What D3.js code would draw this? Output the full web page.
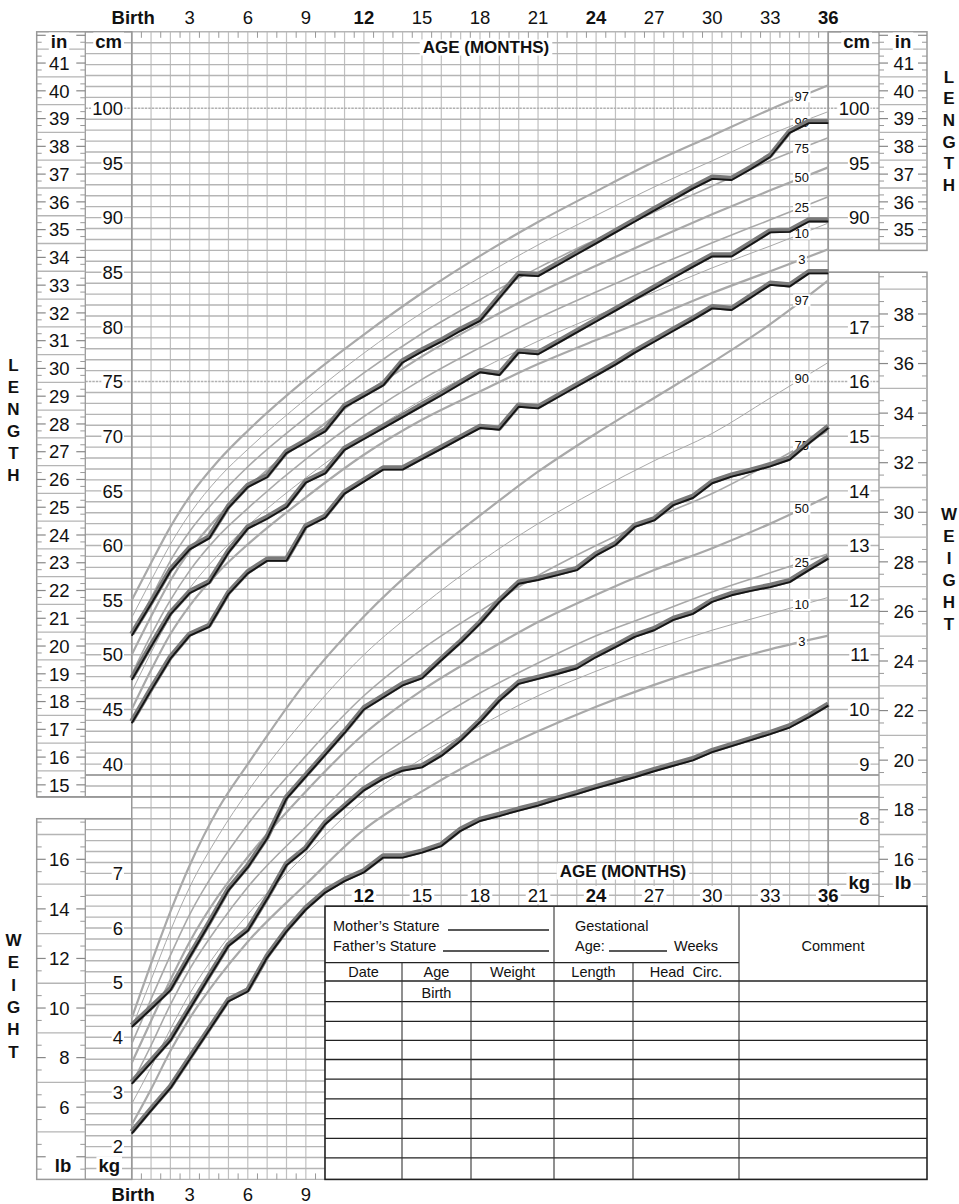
<!DOCTYPE html>
<html>
<head>
<meta charset="utf-8">
<title>Length and weight for age, birth to 36 months</title>
<script src="https://cdn.jsdelivr.net/npm/d3@7"></script>
<style>
  body { margin: 0; background: #fff; }
  text { font-family: "Liberation Sans", Arial, Helvetica, sans-serif; fill: #111; }
</style>
</head>
<body>
<svg id="chart" width="959" height="1204"></svg>
<script>
const AGES = [0, 1, 2, 3, 4.5, 6, 9, 12, 15, 18, 21, 24, 27, 30, 33, 36];

// length-for-age percentiles, cm
const LEN_P97 = [55.0, 58.4, 61.7, 64.5, 67.8, 70.5, 75.2, 79.3, 83.1, 86.5, 89.6, 92.4, 95.1, 97.5, 99.9, 102.1];
const LEN_P90 = [53.4, 56.8, 60.1, 62.9, 66.2, 68.8, 73.4, 77.6, 81.3, 84.5, 87.5, 90.2, 92.8, 95.2, 97.6, 99.7];
const LEN_P75 = [51.8, 55.2, 58.6, 61.3, 64.5, 67.2, 71.7, 75.8, 79.4, 82.5, 85.4, 88.0, 90.5, 92.9, 95.2, 97.3];
const LEN_P50 = [50.0, 53.5, 56.8, 59.5, 62.7, 65.3, 69.8, 73.8, 77.3, 80.3, 83.1, 85.6, 88.0, 90.3, 92.5, 94.6];
const LEN_P25 = [48.2, 51.8, 55.0, 57.7, 60.9, 63.4, 67.9, 71.8, 75.2, 78.1, 80.8, 83.2, 85.5, 87.7, 89.8, 91.9];
const LEN_P10 = [46.6, 50.2, 53.5, 56.1, 59.2, 61.8, 66.2, 70.0, 73.3, 76.1, 78.7, 81.0, 83.2, 85.4, 87.4, 89.5];
const LEN_P3  = [45.0, 48.6, 51.9, 54.5, 57.6, 60.1, 64.4, 68.3, 71.5, 74.1, 76.6, 78.8, 80.9, 83.1, 85.1, 87.1];

// weight-for-age percentiles, kg
const WT_P97 = [4.35, 5.35, 6.30, 7.15, 8.20, 9.00, 10.50, 11.70, 12.70, 13.55, 14.35, 15.05, 15.70, 16.35, 17.05, 17.85];
const WT_P90 = [4.17, 5.05, 5.95, 6.75, 7.70, 8.50, 9.85, 11.00, 11.90, 12.70, 13.40, 14.00, 14.55, 15.05, 15.70, 16.35];
const WT_P75 = [3.88, 4.70, 5.50, 6.25, 7.15, 7.90, 9.15, 10.25, 11.10, 11.80, 12.45, 13.00, 13.50, 13.95, 14.50, 15.10];
const WT_P50 = [3.53, 4.30, 5.05, 5.75, 6.60, 7.30, 8.50, 9.55, 10.35, 11.00, 11.60, 12.10, 12.55, 12.95, 13.40, 13.90];
const WT_P25 = [3.15, 3.85, 4.60, 5.25, 6.05, 6.75, 7.85, 8.90, 9.65, 10.30, 10.85, 11.35, 11.75, 12.15, 12.50, 12.85];
const WT_P10 = [2.78, 3.45, 4.15, 4.80, 5.60, 6.25, 7.35, 8.35, 9.10, 9.70, 10.25, 10.70, 11.10, 11.45, 11.75, 12.05];
const WT_P3  = [2.40, 3.05, 3.75, 4.35, 5.10, 5.75, 6.80, 7.80, 8.50, 9.10, 9.60, 10.05, 10.45, 10.80, 11.10, 11.35];

const PCT_LABELS = ["97", "90", "75", "50", "25", "10", "3"];

// the three plotted children, one value per month
const MONTHS = [0, 1, 2, 3, 4, 5, 6, 7, 8, 9, 10, 11, 12, 13, 14, 15, 16, 17, 18,
                19, 20, 21, 22, 23, 24, 25, 26, 27, 28, 29, 30, 31, 32, 33, 34, 35, 36];
const LEN_A = [51.9, 54.8, 57.8, 59.8, 60.8, 63.6, 65.5, 66.4, 68.6, 69.6, 70.6, 72.8, 73.8, 74.8, 76.9, 77.9, 78.8, 79.8, 80.7,
               82.8, 84.9, 84.8, 85.8, 86.8, 87.8, 88.8, 89.8, 90.8, 91.8, 92.8, 93.7, 93.6, 94.6, 95.7, 97.9, 98.8, 98.8];
const LEN_B = [47.85, 50.9, 53.85, 55.8, 56.7, 59.5, 61.7, 62.6, 63.65, 65.9, 66.75, 68.9, 69.9, 70.9, 71.9, 72.9, 73.9, 74.95, 76.0,
               75.75, 77.8, 77.65, 78.65, 79.65, 80.65, 81.65, 82.65, 83.65, 84.65, 85.65, 86.6, 86.6, 87.7, 88.8, 88.85, 89.8, 89.8];
const LEN_C = [43.9, 46.9, 49.8, 51.9, 52.7, 55.7, 57.6, 58.75, 58.75, 61.8, 62.7, 64.9, 66.0, 67.1, 67.1, 68.05, 69.0, 69.95, 70.9,
               70.75, 72.85, 72.7, 73.7, 74.7, 75.7, 76.7, 77.8, 78.8, 79.8, 80.8, 81.85, 81.7, 82.85, 84.0, 83.85, 85.05, 85.05];
const WT_A = [4.22, 4.55, 4.89, 5.5, 6.1, 6.72, 7.14, 7.67, 8.4, 8.8, 9.2, 9.6, 10.03, 10.25, 10.47, 10.6, 10.93, 11.25, 11.6,
              12.0, 12.33, 12.4, 12.49, 12.58, 12.85, 13.04, 13.37, 13.49, 13.77, 13.9, 14.17, 14.29, 14.38, 14.48, 14.6, 14.9, 15.18];
const WT_B = [3.18, 3.57, 3.97, 4.55, 5.13, 5.7, 5.98, 6.56, 7.18, 7.47, 7.93, 8.24, 8.55, 8.76, 8.91, 8.97, 9.18, 9.46, 9.8,
              10.19, 10.5, 10.59, 10.68, 10.78, 10.99, 11.17, 11.36, 11.48, 11.67, 11.78, 12.0, 12.12, 12.2, 12.27, 12.36, 12.58, 12.79];
const WT_C = [2.27, 2.69, 3.1, 3.63, 4.16, 4.69, 4.87, 5.49, 5.97, 6.37, 6.68, 6.89, 7.05, 7.32, 7.32, 7.41, 7.53, 7.81, 7.99,
              8.08, 8.18, 8.27, 8.38, 8.48, 8.59, 8.69, 8.79, 8.9, 9.0, 9.1, 9.25, 9.36, 9.47, 9.58, 9.7, 9.89, 10.1];

// axis ticks
const AGE_TICKS = [0, 3, 6, 9, 12, 15, 18, 21, 24, 27, 30, 33, 36];
const AGE_TEXT = ["Birth", "3", "6", "9", "12", "15", "18", "21", "24", "27", "30", "33", "36"];
const AGE_BOLD = ["Birth", "12", "24", "36"];
const CM_LEFT = [100, 95, 90, 85, 80, 75, 70, 65, 60, 55, 50, 45, 40];
const CM_RIGHT = [100, 95, 90];
const IN_LEFT = [41, 40, 39, 38, 37, 36, 35, 34, 33, 32, 31, 30, 29, 28, 27, 26, 25, 24, 23, 22, 21, 20, 19, 18, 17, 16, 15];
const IN_RIGHT = [41, 40, 39, 38, 37, 36, 35];
const KG_LEFT = [7, 6, 5, 4, 3, 2];
const KG_RIGHT = [17, 16, 15, 14, 13, 12, 11, 10, 9, 8];
const LB_LEFT = [16, 14, 12, 10, 8, 6];
const LB_RIGHT = [38, 36, 34, 32, 30, 28, 26, 24, 22, 20, 18, 16];

// ---------------------------------------------------------------
const svg = d3.select("#chart");
const X0 = 131.7, X1 = 828.3;          // birth .. 36 months
const Y_TOP = 31.8, Y_BOT = 1179.4;
const x = d3.scaleLinear().domain([0, 36]).range([X0, X1]);
// one vertical grid: 1 cm == 0.2 kg
const yCm = d3.scaleLinear().domain([107, 2]).range([Y_TOP, Y_BOT]);
const yKg = d3.scaleLinear().domain([22.4, 1.4]).range([Y_TOP, Y_BOT]);
const yIn = d3.scaleLinear().domain([107 / 2.54, 2 / 2.54]).range([Y_TOP, Y_BOT]);
const yLb = d3.scaleLinear().domain([22.4 * 2.20462, 1.4 * 2.20462]).range([Y_TOP, Y_BOT]);

const L_OUT = 36.7, L_MID = 85.3;      // left panel columns
const R_MID = 879, R_OUT = 927;        // right panel columns
const T_LEFT = 325, T_TOP = yCm(27);   // comment table

const GRID = "#b5b5b5", FRAME = "#999";

function line(g, x1, y1, x2, y2, color, w) {
  return g.append("line").attr("x1", x1).attr("y1", y1).attr("x2", x2).attr("y2", y2)
    .attr("stroke", color).attr("stroke-width", w);
}

function label(g, s, px, py, o = {}) {
  const t = g.append("text").attr("x", px).attr("y", py).text(s)
    .attr("font-size", o.size || 18.5)
    .attr("font-weight", o.bold ? "bold" : null)
    .attr("text-anchor", o.anchor || "middle");
  if (o.bg !== undefined) {
    const b = t.node().getBBox();
    g.insert("rect", () => t.node())
      .attr("x", b.x - o.bg).attr("y", b.y + 1.5)
      .attr("width", b.width + 2 * o.bg).attr("height", b.height - 3)
      .attr("fill", "#fff");
  }
  return t;
}

const gGrid = svg.append("g");
const gPanel = svg.append("g");
const gCurve = svg.append("g").attr("fill", "none");
const gText = svg.append("g");
const gKid = svg.append("g").attr("fill", "none");

// ---- grid ----
d3.range(0, 37).forEach(m => {
  const bottom = x(m) <= T_LEFT + 0.5 ? Y_BOT : T_TOP;
  line(gGrid, x(m), Y_TOP, x(m), bottom, "#c0c0c0", 1.2);
});
d3.range(2, 108).forEach(u => {
  const inLeft = u !== 36;
  const inRight = u >= 87 || (u >= 27 && u <= 85);
  const x1 = inLeft ? L_MID : X0;
  const x2 = u < 27 ? T_LEFT : (inRight ? R_MID : X1);
  const l = line(gGrid, x1, yCm(u), x2, yCm(u), GRID, 1.4);
  if (u === 100 || u === 75) l.attr("stroke-dasharray", "2.5,1").attr("stroke", "#b0b0b0");
});
// heavier rules where the two grids meet
line(gGrid, L_MID, yCm(39), R_MID, yCm(39), FRAME, 1.6);
line(gGrid, L_OUT, yCm(37), R_MID, yCm(37), FRAME, 1.6);
// half-month ticks
d3.range(0, 36).forEach(m => line(gGrid, x(m + 0.5), Y_TOP, x(m + 0.5), Y_TOP + 6, "#999", 1));
d3.range(0, 10).forEach(m => line(gGrid, x(m + 0.5), Y_BOT, x(m + 0.5), Y_BOT - 6, "#999", 1));

// ---- side panels ----
function panel(xa, xb, xc, ya, yb) {
  gPanel.append("rect").attr("x", xa).attr("y", ya).attr("width", xc - xa).attr("height", yb - ya)
    .attr("fill", "none").attr("stroke", FRAME).attr("stroke-width", 1.5);
  line(gPanel, xb, ya, xb, yb, FRAME, 1.3);
}
panel(L_OUT, L_MID, X0, Y_TOP, yCm(37));
panel(L_OUT, L_MID, X0, yCm(35), Y_BOT);
panel(X1, R_MID, R_OUT, Y_TOP, yCm(87));
panel(X1, R_MID, R_OUT, yCm(85), T_TOP);
line(gPanel, X0, Y_TOP, X0, Y_BOT, FRAME, 1.4);
line(gPanel, X1, Y_TOP, X1, T_TOP, FRAME, 1.4);

// imperial column: full rule at the half unit, ticks at whole and quarter units
function imperialColumn(scale, xa, xb, lo, hi, step) {
  const ya = yCm(hi), yb = yCm(lo);
  d3.range(Math.ceil(scale.invert(yb) / (step / 4)) * (step / 4), scale.invert(ya), step / 4).forEach(v => {
    const yy = scale(v);
    if (yy < ya + 2 || yy > yb - 2) return;
    const k = Math.round(v / (step / 4)) % 4;
    if (k === 2) line(gPanel, xa, yy, xb, yy, GRID, 1.3);
    else if (k === 0) { line(gPanel, xa, yy, xa + 9, yy, "#888", 1.2); line(gPanel, xb - 9, yy, xb, yy, "#888", 1.2); }
    else { line(gPanel, xa, yy, xa + 5, yy, "#999", 1); line(gPanel, xb - 5, yy, xb, yy, "#999", 1); }
  });
}
// inches: whole inch labelled, half inch ruled
imperialColumn(yIn, L_OUT, L_MID, 37, 107, 1);
imperialColumn(yIn, R_MID, R_OUT, 87, 107, 1);
// pounds: even labelled, odd ruled (step of two)
imperialColumn(yLb, L_OUT, L_MID, 2, 35, 2);
imperialColumn(yLb, R_MID, R_OUT, 27, 85, 2);

// ---- axis labels ----
AGE_TICKS.forEach((m, i) => {
  const s = AGE_TEXT[i];
  label(gText, s, x(m) + (i === 0 ? 1.5 : 0), 23.5, { bold: AGE_BOLD.includes(s) });
  if (m <= 9) label(gText, s, x(m) + (i === 0 ? 1.5 : 0), 1201, { bold: AGE_BOLD.includes(s) });
  else label(gText, s, x(m), 901.5, { bold: AGE_BOLD.includes(s), bg: 2 });
});
CM_LEFT.forEach(v => label(gText, v, 123, yCm(v) + 6.7, { anchor: "end", bg: 1 }));
CM_RIGHT.forEach(v => label(gText, v, 869.5, yCm(v) + 6.7, { anchor: "end", bg: 1 }));
KG_LEFT.forEach(v => label(gText, v, 123, yKg(v) + 6.7, { anchor: "end", bg: 1 }));
KG_RIGHT.forEach(v => label(gText, v, 869.5, yKg(v) + 6.7, { anchor: "end", bg: 1 }));
IN_LEFT.forEach(v => label(gText, v, 69.5, yIn(v) + 6.7, { anchor: "end", bg: 1 }));
IN_RIGHT.forEach(v => label(gText, v, 914, yIn(v) + 6.7, { anchor: "end", bg: 1 }));
LB_LEFT.forEach(v => label(gText, v, 69.5, yLb(v) + 6.7, { anchor: "end", bg: 1 }));
LB_RIGHT.forEach(v => label(gText, v, 914, yLb(v) + 6.7, { anchor: "end", bg: 1 }));

label(gText, "in", 59, 48, { bold: true, bg: 2 });
label(gText, "cm", 122, 48, { bold: true, anchor: "end", bg: 2 });
label(gText, "cm", 870, 48, { bold: true, anchor: "end", bg: 2 });
label(gText, "in", 903, 48, { bold: true, bg: 2 });
label(gText, "lb", 63, 1172, { bold: true, bg: 2 });
label(gText, "kg", 120, 1172, { bold: true, anchor: "end", bg: 2 });
label(gText, "kg", 870, 889, { bold: true, anchor: "end", bg: 2 });
label(gText, "lb", 903, 889, { bold: true, bg: 2 });

label(gText, "AGE (MONTHS)", 486, 53, { bold: true, size: 17, bg: 3 });
label(gText, "AGE (MONTHS)", 623, 877, { bold: true, size: 17, bg: 3 });

function stack(g, word, cx, cy0, step) {
  word.split("").forEach((c, i) => label(g, c, cx, cy0 + i * step + 6, { bold: true, size: 17 }));
}
stack(gText, "LENGTH", 13.5, 365, 22);
stack(gText, "LENGTH", 949, 76.5, 21.7);
stack(gText, "WEIGHT", 13.5, 940, 22.3);
stack(gText, "WEIGHT", 949, 513.5, 22);

// ---- percentile curves ----
const lenSets = [LEN_P97, LEN_P90, LEN_P75, LEN_P50, LEN_P25, LEN_P10, LEN_P3];
const wtSets = [WT_P97, WT_P90, WT_P75, WT_P50, WT_P25, WT_P10, WT_P3];
const widths = [2.2, 1.0, 1.6, 2.2, 1.6, 1.0, 2.2];
const LABEL_AGE = 34.63;

function curves(sets, scale) {
  const gen = d3.line().x(d => x(d[0])).y(d => scale(d[1])).curve(d3.curveMonotoneX);
  sets.forEach((vals, i) => {
    gCurve.append("path").attr("d", gen(AGES.map((a, j) => [a, vals[j]])))
      .attr("stroke", "#a9a9a9").attr("stroke-width", widths[i]);
  });
  sets.forEach((vals, i) => {
    const v = d3.scaleLinear().domain(AGES).range(vals)(LABEL_AGE);
    label(gCurve, PCT_LABELS[i], x(LABEL_AGE), scale(v) + 4.5, { size: 13, bg: 1.5 });
  });
}
curves(lenSets, yCm);
curves(wtSets, yKg);

// ---- plotted children ----
function kid(vals, scale) {
  const gen = d3.line().x((d, i) => x(MONTHS[i])).y(d => scale(d));
  gKid.append("path").attr("d", gen(vals)).attr("stroke", "#7a7a7a").attr("stroke-width", 5.2)
    .attr("stroke-linejoin", "round");
  gKid.append("path").attr("d", gen(vals)).attr("transform", "translate(0,1.7)")
    .attr("stroke", "#141414").attr("stroke-width", 1.9).attr("stroke-linejoin", "round");
}
[LEN_A, LEN_B, LEN_C].forEach(v => kid(v, yCm));
[WT_A, WT_B, WT_C].forEach(v => kid(v, yKg));

// ---- record table ----
const gTab = svg.append("g");
const T_RIGHT = R_OUT;
const COLS = [T_LEFT, 402, 471, 554, 633, 739, T_RIGHT];
const Y_SUB = 962.7, Y_HEAD = 981;
const ROWS = [1001.7, 1021.3, 1040.3, 1059.5, 1079.2, 1098.8, 1118.6, 1138.3, 1157.9];
gTab.append("rect").attr("x", T_LEFT).attr("y", T_TOP).attr("width", T_RIGHT - T_LEFT).attr("height", Y_BOT - T_TOP)
  .attr("fill", "#fff").attr("stroke", "#222").attr("stroke-width", 1.6);
line(gTab, T_LEFT, Y_SUB, COLS[5], Y_SUB, "#222", 1.3);
line(gTab, T_LEFT, Y_HEAD, T_RIGHT, Y_HEAD, "#222", 1.3);
ROWS.forEach(r => line(gTab, T_LEFT, r, T_RIGHT, r, "#222", 1.3));
line(gTab, COLS[1], Y_SUB, COLS[1], Y_BOT, "#333", 1.1);
line(gTab, COLS[2], Y_SUB, COLS[2], Y_BOT, "#333", 1.1);
line(gTab, COLS[3], T_TOP, COLS[3], Y_BOT, "#333", 1.1);
line(gTab, COLS[4], Y_SUB, COLS[4], Y_BOT, "#333", 1.1);
line(gTab, COLS[5], T_TOP, COLS[5], Y_BOT, "#333", 1.1);

const TF = 14.5;
label(gTab, "Mother\u2019s Stature", 333, 931, { size: TF, anchor: "start" });
label(gTab, "Father\u2019s Stature", 333, 951, { size: TF, anchor: "start" });
line(gTab, 448, 930, 549, 930, "#222", 1.3);
line(gTab, 443, 951, 549, 951, "#222", 1.3);
label(gTab, "Gestational", 575, 931, { size: TF, anchor: "start" });
label(gTab, "Age:", 575, 951, { size: TF, anchor: "start" });
line(gTab, 609, 951, 667, 951, "#222", 1.3);
label(gTab, "Weeks", 674, 951, { size: TF, anchor: "start" });
label(gTab, "Comment", (COLS[5] + T_RIGHT) / 2, 951, { size: TF });
["Date", "Age", "Weight", "Length", "Head  Circ."].forEach((h, i) => {
  label(gTab, h, (COLS[i] + COLS[i + 1]) / 2, 976.5, { size: TF }).attr("xml:space", "preserve");
});
label(gTab, "Birth", (COLS[1] + COLS[2]) / 2, 997.5, { size: TF });
</script>
</body>
</html>
